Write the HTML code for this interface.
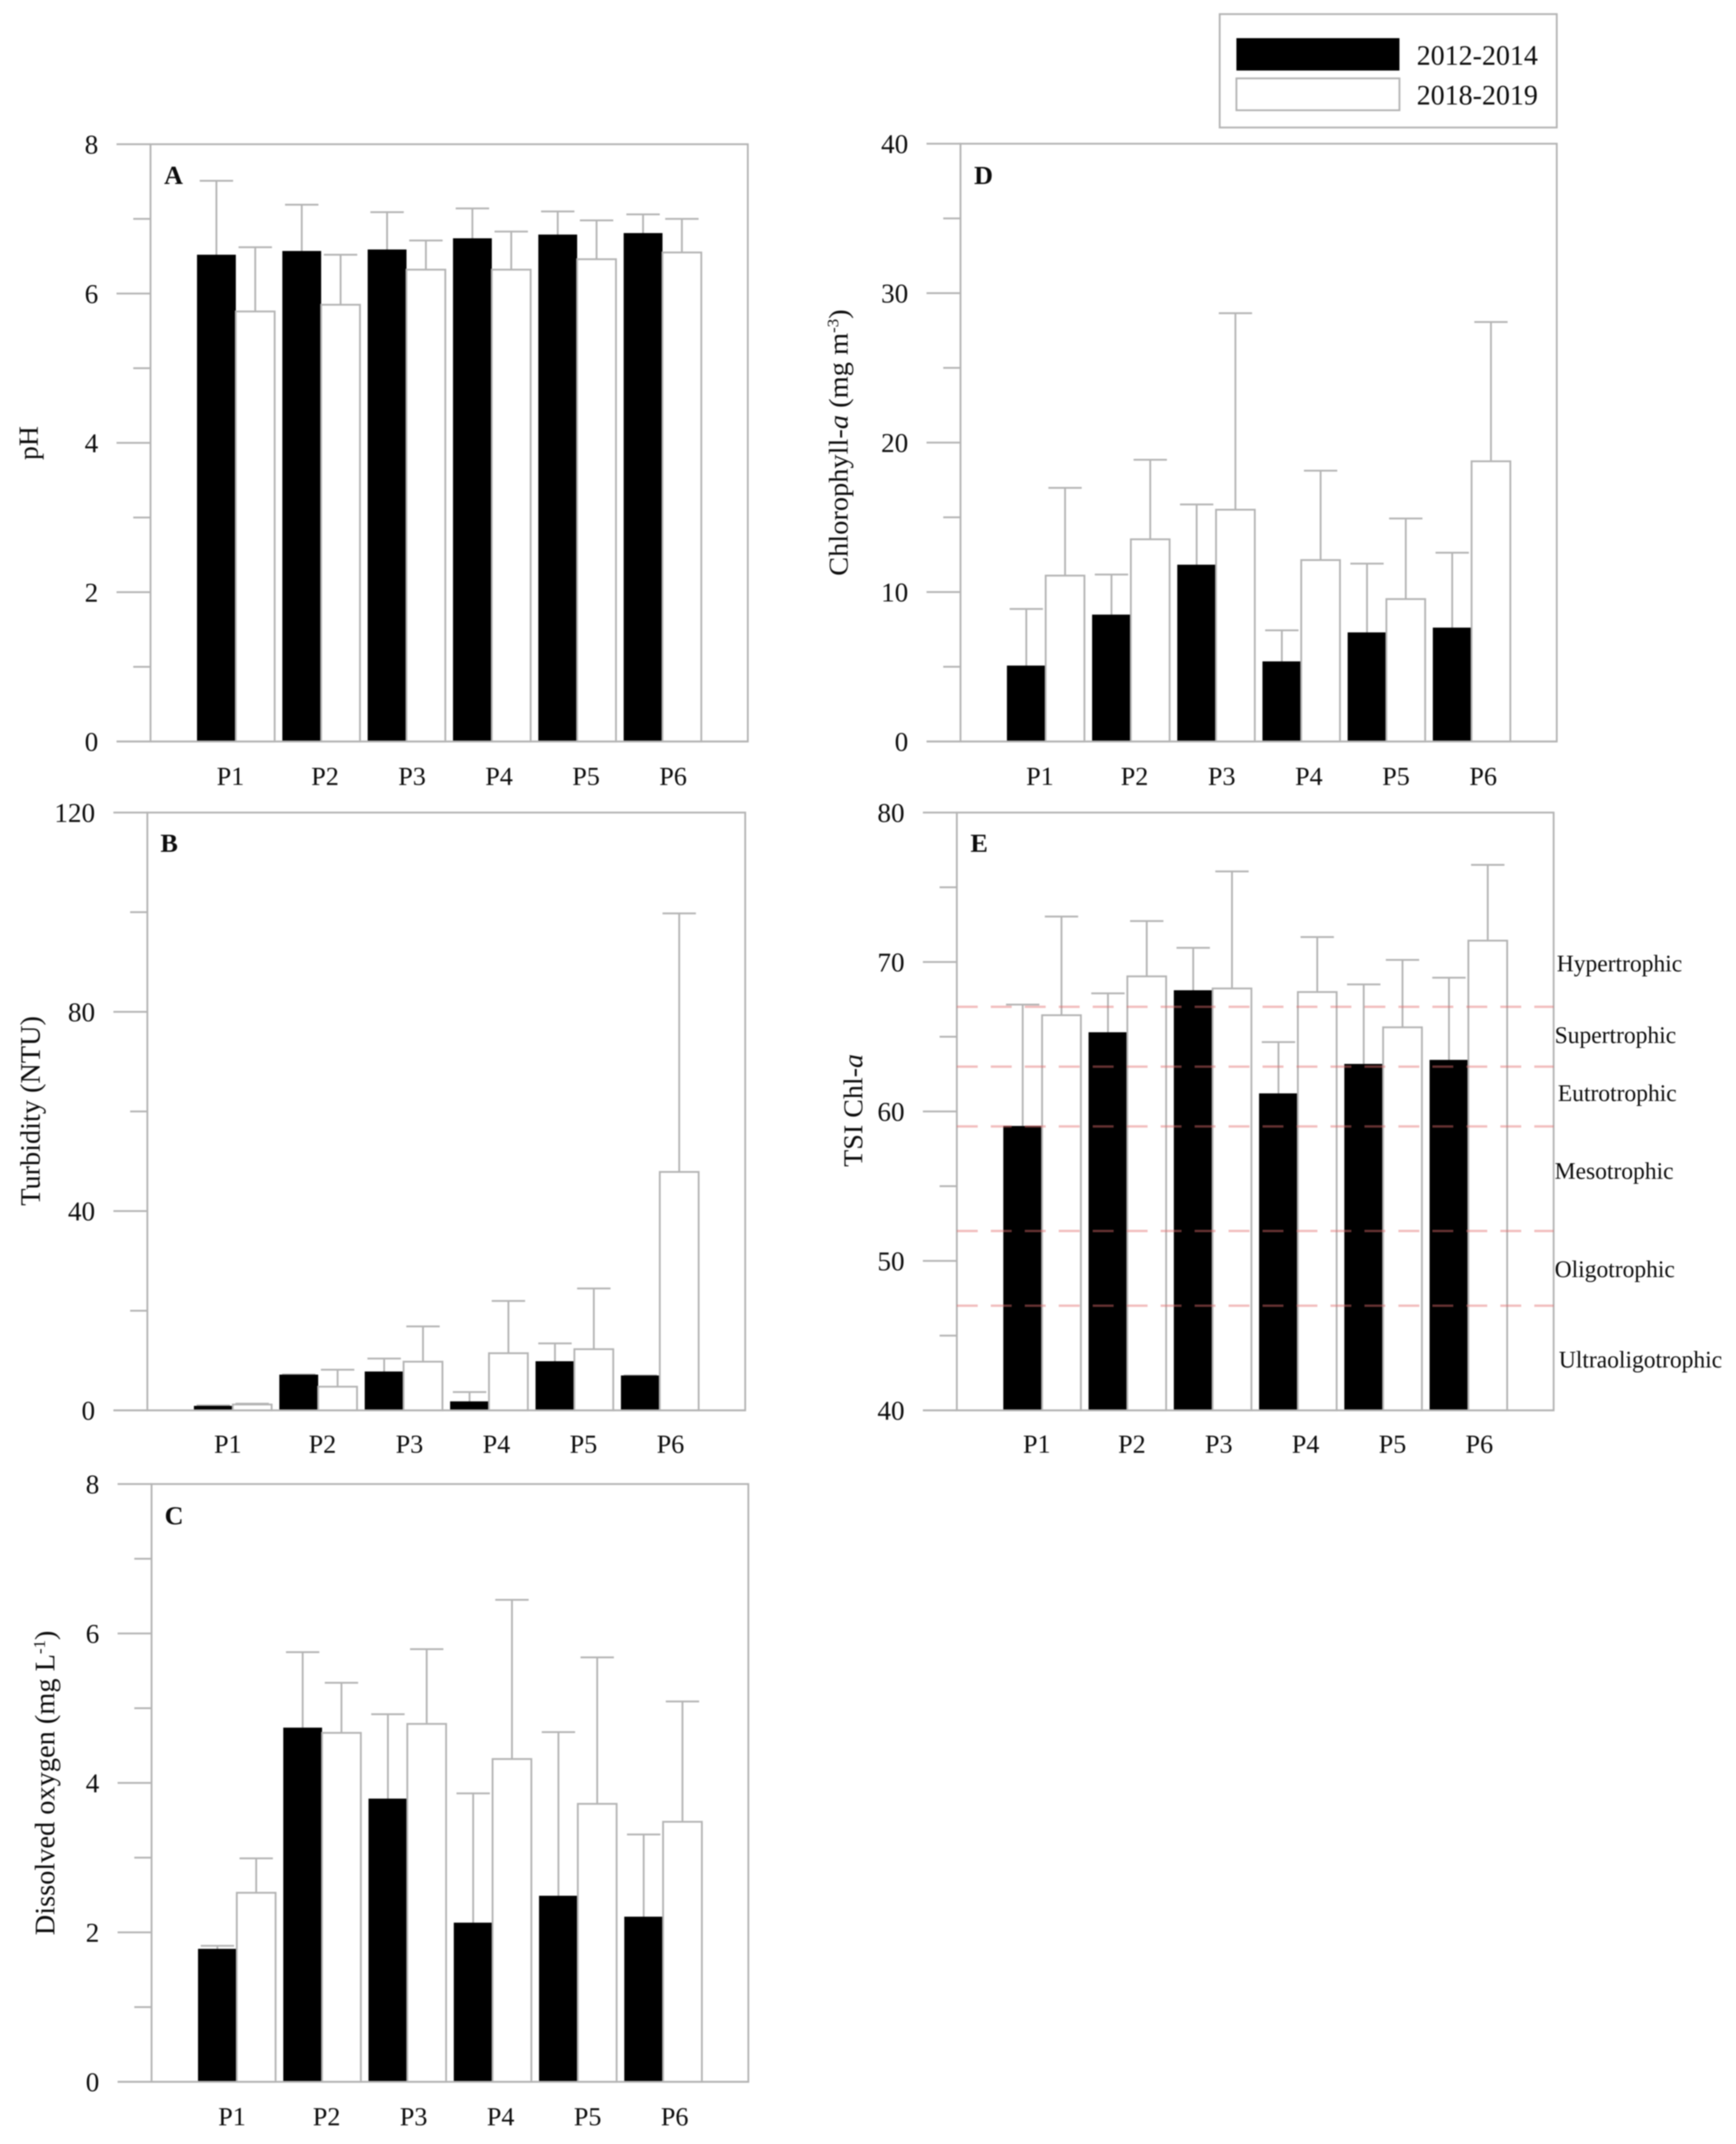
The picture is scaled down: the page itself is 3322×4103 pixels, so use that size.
<!DOCTYPE html>
<html lang="en">
<head>
<meta charset="utf-8">
<title>Water quality by sampling point</title>
<style>
html,body{margin:0;padding:0;background:#fff;}
svg{display:block;}
text{font-family:"Liberation Serif","Times New Roman",serif;fill:#0c0c0c;}
#plot-root{filter:blur(1px);}
</style>
</head>
<body>
<svg id="chart" xmlns="http://www.w3.org/2000/svg" width="3322" height="4103" viewBox="0 0 3322 4103">
<rect x="0" y="0" width="3322" height="4103" fill="#fff"/>
<g id="plot-root">
  <g id="panels"></g>

  <g>
    <rect x="2334" y="27" width="645" height="217" fill="#fff" stroke="#b4b4b4" stroke-width="3.5"/>
    <rect x="2366" y="73" width="312" height="62" fill="#000"/>
    <rect x="2366" y="150" width="312" height="61" fill="#fff" stroke="#b4b4b4" stroke-width="3.5"/>
    <text x="2711" y="124" font-size="53.5">2012-2014</text>
    <text x="2711" y="200" font-size="53.5">2018-2019</text>
  </g>

  <text transform="translate(72,848) rotate(-90)" text-anchor="middle" font-size="53">pH</text>
  <text transform="translate(76,2126) rotate(-90)" text-anchor="middle" font-size="54" textLength="363" lengthAdjust="spacingAndGlyphs">Turbidity (NTU)</text>
  <text transform="translate(104,3412) rotate(-90)" text-anchor="middle" font-size="54" textLength="583" lengthAdjust="spacingAndGlyphs">Dissolved oxygen (mg L<tspan font-size="32" dy="-18">-1</tspan><tspan dy="18">)</tspan></text>
  <text transform="translate(1622,847) rotate(-90)" text-anchor="middle" font-size="52" textLength="510" lengthAdjust="spacingAndGlyphs">Chlorophyll-<tspan font-style="italic">a</tspan> (mg m<tspan font-size="31" dy="-18">-3</tspan><tspan dy="18">)</tspan></text>
  <text transform="translate(1650,2125) rotate(-90)" text-anchor="middle" font-size="52" textLength="216" lengthAdjust="spacingAndGlyphs">TSI Chl-<tspan font-style="italic">a</tspan></text>

  <text x="314" y="352" font-size="50" font-weight="bold">A</text>
  <text x="307" y="1630" font-size="50" font-weight="bold">B</text>
  <text x="315" y="2917" font-size="50" font-weight="bold">C</text>
  <text x="1864" y="352" font-size="50" font-weight="bold">D</text>
  <text x="1857" y="1630" font-size="50" font-weight="bold">E</text>

  <text x="2979" y="1859" font-size="45">Hypertrophic</text>
  <text x="2975" y="1996" font-size="45">Supertrophic</text>
  <text x="2981" y="2107" font-size="45">Eutrotrophic</text>
  <text x="2975" y="2256" font-size="45">Mesotrophic</text>
  <text x="2975" y="2444" font-size="45">Oligotrophic</text>
  <text x="2983" y="2617" font-size="45">Ultraoligotrophic</text>
</g>
</svg>
<script>
// Shared categories
const categories = ['P1', 'P2', 'P3', 'P4', 'P5', 'P6'];

// Panel A: pH
const phTicks = [0, 2, 4, 6, 8];
const ph2012 = [6.52, 6.57, 6.59, 6.74, 6.79, 6.81];
const ph2012Err = [7.51, 7.19, 7.09, 7.14, 7.10, 7.06];
const ph2018 = [5.76, 5.85, 6.32, 6.32, 6.46, 6.55];
const ph2018Err = [6.62, 6.52, 6.71, 6.83, 6.98, 7.00];

// Panel B: turbidity
const turbidityTicks = [0, 40, 80, 120];
const turbidity2012 = [0.9, 7.17, 7.8, 1.8, 9.86, 7.0];
const turbidity2012Err = [1.0, 7.2, 10.4, 3.67, 13.44, 7.0];
const turbidity2018 = [1.17, 4.75, 9.77, 11.47, 12.28, 47.86];
const turbidity2018Err = [1.34, 8.16, 16.85, 21.96, 24.47, 99.75];

// Panel C: dissolved oxygen
const oxygenTicks = [0, 2, 4, 6, 8];
const oxygen2012 = [1.78, 4.74, 3.79, 2.13, 2.49, 2.21];
const oxygen2012Err = [1.82, 5.75, 4.92, 3.86, 4.68, 3.31];
const oxygen2018 = [2.53, 4.67, 4.79, 4.32, 3.72, 3.48];
const oxygen2018Err = [2.99, 5.34, 5.79, 6.45, 5.68, 5.09];

// Panel D: chlorophyll-a
const chlorophyllTicks = [0, 10, 20, 30, 40];
const chlorophyll2012 = [5.08, 8.49, 11.83, 5.36, 7.30, 7.62];
const chlorophyll2012Err = [8.87, 11.17, 15.86, 7.44, 11.9, 12.63];
const chlorophyll2018 = [11.1, 13.53, 15.51, 12.14, 9.53, 18.75];
const chlorophyll2018Err = [16.97, 18.85, 28.66, 18.12, 14.92, 28.07];

// Panel E: trophic state index
const tsiTicks = [40, 50, 60, 70, 80];
const tsi2012 = [59.03, 65.3, 68.11, 61.21, 63.18, 63.45];
const tsi2012Err = [67.15, 67.9, 70.95, 64.64, 68.5, 68.95];
const tsi2018 = [66.44, 69.04, 68.23, 67.99, 65.63, 71.43];
const tsi2018Err = [73.04, 72.74, 76.06, 71.67, 70.14, 76.5];
const trophicThresholds = [67, 63, 59, 52, 47];

const NS = 'http://www.w3.org/2000/svg';
const AXIS = '#b4b4b4';
const LINE_W = 3.5;
const root = document.getElementById('panels');

const panels = [
  {id: 'a', box: [288, 276, 1431, 1419], labelX: [441, 622, 166.5], labelY: 1502, ticks: phTicks,
   s1: ph2012, e1: ph2012Err, s2: ph2018, e2: ph2018Err},
  {id: 'b', box: [282, 1555, 1426, 2699], labelX: [436, 617, 166.5], labelY: 2780, ticks: turbidityTicks,
   s1: turbidity2012, e1: turbidity2012Err, s2: turbidity2018, e2: turbidity2018Err},
  {id: 'c', box: [290, 2840, 1432, 3984], labelX: [444, 625, 166.5], labelY: 4067, ticks: oxygenTicks,
   s1: oxygen2012, e1: oxygen2012Err, s2: oxygen2018, e2: oxygen2018Err},
  {id: 'd', box: [1838, 275, 2979, 1419], labelX: [1990, 2171, 166.8], labelY: 1502, ticks: chlorophyllTicks,
   s1: chlorophyll2012, e1: chlorophyll2012Err, s2: chlorophyll2018, e2: chlorophyll2018Err},
  {id: 'e', box: [1831, 1555, 2973, 2699], labelX: [1984, 2166, 166.2], labelY: 2780, ticks: tsiTicks,
   s1: tsi2012, e1: tsi2012Err, s2: tsi2018, e2: tsi2018Err, thresholds: trophicThresholds}
];

function mk(tag, attrs, parent) {
  const node = document.createElementNS(NS, tag);
  for (const k in attrs) node.setAttribute(k, attrs[k]);
  parent.appendChild(node);
  return node;
}

function drawSeries(g, p, values, errs, seriesName, xPos, barW, yScale, fill) {
  const capW = barW * 0.86;
  const base = yScale(p.ticks[0]);
  values.forEach(function (v, i) {
    const cx = xPos(i);
    const top = yScale(v);
    const errY = yScale(errs[i]);
    const stem = mk('line', {x1: cx, x2: cx, y1: top, y2: errY, stroke: AXIS, 'stroke-width': LINE_W}, g);
    
    
    const cap = mk('line', {x1: cx - capW / 2, x2: cx + capW / 2, y1: errY, y2: errY, stroke: AXIS, 'stroke-width': LINE_W}, g);
    
    
  });
  values.forEach(function (v, i) {
    const cx = xPos(i);
    const top = yScale(v);
    const bar = mk('rect', {x: cx - barW / 2, y: top, width: barW, height: base - top, fill: fill,
      stroke: fill === '#000' ? 'none' : AXIS, 'stroke-width': fill === '#000' ? 0 : LINE_W}, g);
    
    
  });
}

panels.forEach(function (p) {
  const left = p.box[0], top = p.box[1], right = p.box[2], bottom = p.box[3];
  const yMin = p.ticks[0];
  const yMax = p.ticks[p.ticks.length - 1];
  const yScale = function (v) { return bottom - (v - yMin) / (yMax - yMin) * (bottom - top); };
  const group = (right - left) / 7;
  const barW = group * 0.455;
  const center = function (i) { return left + (i + 1) * group; };

  const g = mk('g', {}, root);
  
  

  const frame = mk('rect', {x: left, y: top, width: right - left, height: bottom - top, fill: 'none', stroke: AXIS, 'stroke-width': LINE_W}, g);
  
  

  p.ticks.forEach(function (t, i) {
    const y = yScale(t);
    const tick = mk('line', {x1: left - 65, x2: left, y1: y, y2: y, stroke: AXIS, 'stroke-width': LINE_W}, g);
    
    
    const lab = mk('text', {x: left - 100, y: y + 18, 'text-anchor': 'end', 'font-size': 52}, g);
    lab.textContent = String(t);
    
    
    if (i < p.ticks.length - 1) {
      const my = yScale((t + p.ticks[i + 1]) / 2);
      const minor = mk('line', {x1: left - 33, x2: left, y1: my, y2: my, stroke: AXIS, 'stroke-width': LINE_W}, g);
      
      
    }
  });

  drawSeries(g, p, p.s1, p.e1, '2012-2014', function (i) { return center(i) - barW / 2; }, barW, yScale, '#000');
  drawSeries(g, p, p.s2, p.e2, '2018-2019', function (i) { return center(i) + barW / 2; }, barW, yScale, '#fff');

  const baseLine = mk('line', {x1: left - 65, x2: right, y1: bottom, y2: bottom, stroke: AXIS, 'stroke-width': LINE_W}, g);
  
  

  categories.forEach(function (c, i) {
    const x = i === 0 ? p.labelX[0] : p.labelX[1] + (i - 1) * p.labelX[2];
    const lab = mk('text', {x: x, y: p.labelY, 'text-anchor': 'middle', 'font-size': 50}, g);
    lab.textContent = c;
    
    
  });

  (p.thresholds || []).forEach(function (t) {
    const y = yScale(t);
    const dash = mk('line', {x1: left, x2: right, y1: y, y2: y, stroke: 'rgba(226,110,110,0.45)', 'stroke-width': 4.5, 'stroke-dasharray': '40 25'}, g);
    
    
  });
});
</script>
</body>
</html>
